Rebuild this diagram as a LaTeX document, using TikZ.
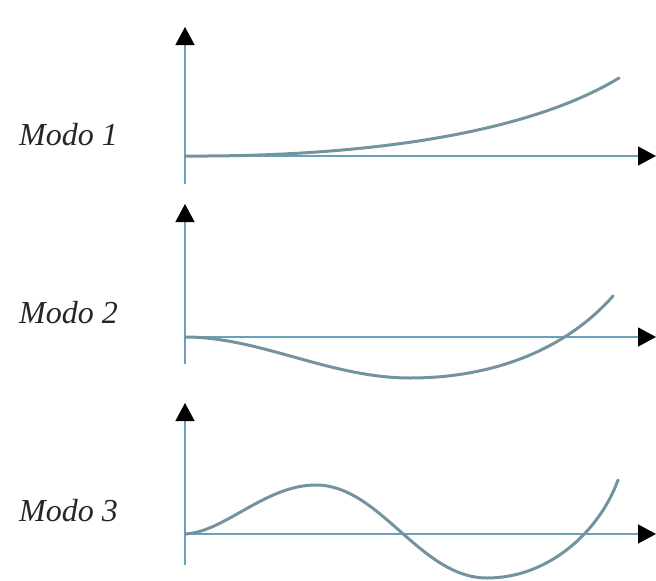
\documentclass[tikz,border=0pt]{standalone}
\usepackage{fontspec}
\setmainfont{Liberation Serif}
\usetikzlibrary{arrows.meta}
\definecolor{axiscol}{RGB}{105,160,190}
\definecolor{curvecol}{RGB}{115,148,158}
\tikzset{
  axisline/.style={draw=axiscol, line width=1.3pt, -{Triangle[length=18pt,width=19pt,color=black]}},
  modecurve/.style={draw=curvecol, line width=3pt, line cap=round},
  modelabel/.style={anchor=base west, inner sep=0pt, font=\itshape\fontsize{32}{36}\selectfont, text=black!85}
}
\begin{document}
\begin{tikzpicture}[x=1pt,y=-1pt]
\useasboundingbox (0,0) rectangle (656,581);
% panel 1
\coordinate (o1) at (185,156);
\coordinate (t1) at (185,27);
\coordinate (b1) at (185,184);
\coordinate (r1) at (656,156);
\draw[axisline] (b1) -- (t1);
\draw[axisline] (o1) -- (r1);
\draw[modecurve] (o1) .. controls (360,157) and (525,135) .. (619,78);
\node[modelabel] (m1) at (19,145) {Modo 1};
% panel 2
\coordinate (o2) at (185,337);
\coordinate (t2) at (185,204);
\coordinate (b2) at (185,364);
\coordinate (r2) at (656,337);
\draw[axisline] (b2) -- (t2);
\draw[axisline] (o2) -- (r2);
\draw[modecurve] (o2) .. controls (260,337) and (330,378) .. (410,378)
                      .. controls (500,378) and (570,345) .. (613,296);
\node[modelabel] (m2) at (19,323) {Modo 2};
% panel 3
\coordinate (o3) at (185,534);
\coordinate (t3) at (185,403);
\coordinate (b3) at (185,565);
\coordinate (r3) at (656,534);
\draw[axisline] (b3) -- (t3);
\draw[axisline] (o3) -- (r3);
\draw[modecurve] (o3) .. controls (225,532) and (265,485) .. (316,485)
                      .. controls (380,485) and (420,578) .. (487,578)
                      .. controls (550,578) and (600,530) .. (618,480);
\node[modelabel] (m3) at (19,521) {Modo 3};
\end{tikzpicture}
\end{document}
